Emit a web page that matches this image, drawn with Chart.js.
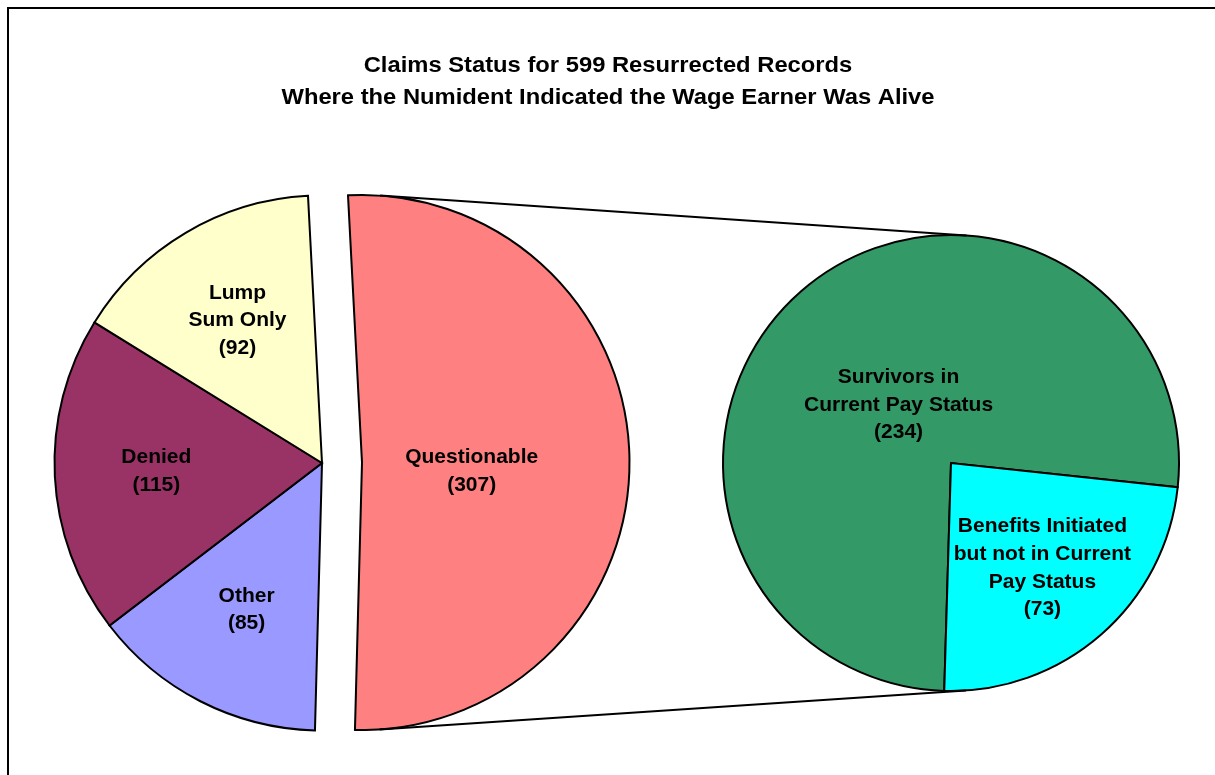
<!DOCTYPE html>
<html>
<head>
<meta charset="utf-8">
<script src="https://cdn.jsdelivr.net/npm/chart.js@4.4.0/dist/chart.umd.min.js"></script>
<style>
  html, body { margin: 0; padding: 0; background: #fff; overflow: hidden; }
  #page { position: relative; width: 1215px; height: 775px; overflow: hidden; }
  #frame { position: absolute; left: 6.5px; top: 6.5px; width: 1300px; height: 900px; border: 2.5px solid #000; }
  .layer { position: absolute; left: 0; top: 0; width: 1215px; height: 775px; }
</style>
</head>
<body>
<div id="page">
  <div id="frame"></div>
  <div class="layer"><canvas id="leftPie"></canvas></div>
  <div class="layer"><canvas id="rightPie"></canvas></div>
</div>
<script>
var titleLines = ['Claims Status for 599 Resurrected Records', 'Where the Numident Indicated the Wage Earner Was Alive'];

// main pie (all 599 records)
var claimCategories = [['Questionable'], ['Other'], ['Denied'], ['Lump', 'Sum Only']];
var claimCounts = [307, 85, 115, 92];
var claimColors = ['#FF8080', '#9999FF', '#993366', '#FFFFCC'];

// second pie, breaks down the "Questionable" slice
var questionableCategories = [['Survivors in', 'Current Pay Status'], ['Benefits Initiated', 'but not in Current', 'Pay Status']];
var questionableCounts = [234, 73];
var questionableColors = ['#339966', '#00FFFF'];

var FONT = '"Liberation Sans", Arial, sans-serif';

// pulls one slice out of the pie along its middle angle
var explodePlugin = {
  id: 'explode',
  afterUpdate: function (chart, args, opts) {
    var arc = chart.getDatasetMeta(0).data[opts.index];
    if (!arc) return;
    var mid = (arc.startAngle + arc.endAngle) / 2;
    arc.x += Math.cos(mid) * opts.distance;
    arc.y += Math.sin(mid) * opts.distance;
  }
};

// category name + (count) written inside each slice
var sliceLabels = {
  id: 'sliceLabels',
  afterDatasetsDraw: function (chart, args, opts) {
    var ctx = chart.ctx;
    var values = chart.data.datasets[0].data;
    ctx.save();
    ctx.font = 'bold 21px ' + FONT;
    ctx.fillStyle = '#000';
    ctx.textAlign = 'center';
    ctx.textBaseline = 'middle';
    chart.getDatasetMeta(0).data.forEach(function (arc, i) {
      var mid = (arc.startAngle + arc.endAngle) / 2;
      var r = arc.outerRadius * opts.fractions[i];
      var x = arc.x + Math.cos(mid) * r;
      var y = arc.y + Math.sin(mid) * r + (opts.dy ? opts.dy[i] : 0);
      var lines = chart.data.labels[i].concat('(' + values[i] + ')');
      var top = y - (lines.length - 1) * opts.lineHeight / 2;
      lines.forEach(function (t, k) {
        ctx.fillText(t, x, top + k * opts.lineHeight);
      });
    });
    ctx.restore();
  }
};

var titlePlugin = {
  id: 'twoLineTitle',
  afterDraw: function (chart, args, opts) {
    var ctx = chart.ctx;
    ctx.save();
    ctx.font = 'bold 22px ' + FONT;
    ctx.fillStyle = '#000';
    ctx.textAlign = 'center';
    ctx.textBaseline = 'alphabetic';
    ctx.translate(opts.x, 0);
    ctx.scale(opts.stretch, 1);
    titleLines.forEach(function (t, k) {
      ctx.fillText(t, 0, opts.y + k * opts.lineHeight);
    });
    ctx.restore();
  }
};

var leftChart = new Chart(document.getElementById('leftPie'), {
  type: 'pie',
  data: {
    labels: claimCategories,
    datasets: [{
      data: claimCounts,
      backgroundColor: claimColors,
      borderColor: '#000',
      borderWidth: 2,
      borderJoinStyle: 'miter'
    }]
  },
  options: {
    responsive: true,
    maintainAspectRatio: false,
    animation: false,
    events: [],
    rotation: -3,
    layout: { padding: { left: 53.5, right: 624.5, top: 194.5, bottom: 43.5 } },
    plugins: {
      legend: { display: false },
      tooltip: { enabled: false },
      explode: { index: 0, distance: 40 },
      sliceLabels: { fractions: [0.41, 0.62, 0.62, 0.62], dy: [10, -1, 0, 0], lineHeight: 27.5 },
      twoLineTitle: { x: 608, y: 72, lineHeight: 31.7, stretch: 1.08 }
    }
  },
  plugins: [explodePlugin, sliceLabels, titlePlugin]
});

// the two lines joining the pulled-out slice to the second pie (outer tangents)
var connectorLines = {
  id: 'connectorLines',
  afterDraw: function (chart) {
    var a = leftChart.getDatasetMeta(0).data[0];
    var b = chart.getDatasetMeta(0).data[0];
    if (!a || !b) return;
    var dx = b.x - a.x, dy = b.y - a.y;
    var d = Math.sqrt(dx * dx + dy * dy);
    var phi = Math.atan2(dy, dx);
    var theta = Math.acos((a.outerRadius - b.outerRadius) / d);
    var ctx = chart.ctx;
    ctx.save();
    ctx.strokeStyle = '#000';
    ctx.lineWidth = 2;
    [phi - theta, phi + theta].forEach(function (ang) {
      ctx.beginPath();
      ctx.moveTo(a.x + Math.cos(ang) * a.outerRadius, a.y + Math.sin(ang) * a.outerRadius);
      ctx.lineTo(b.x + Math.cos(ang) * b.outerRadius, b.y + Math.sin(ang) * b.outerRadius);
      ctx.stroke();
    });
    ctx.restore();
  }
};

var rightChart = new Chart(document.getElementById('rightPie'), {
  type: 'pie',
  data: {
    labels: questionableCategories,
    datasets: [{
      data: questionableCounts,
      backgroundColor: questionableColors,
      borderColor: '#000',
      borderWidth: 2,
      borderJoinStyle: 'miter'
    }]
  },
  options: {
    responsive: true,
    maintainAspectRatio: false,
    animation: false,
    events: [],
    rotation: 181.7,
    layout: { padding: { left: 722, right: 35, top: 234, bottom: 83 } },
    plugins: {
      legend: { display: false },
      tooltip: { enabled: false },
      sliceLabels: { fractions: [0.35, 0.61], dy: [2, 0], lineHeight: 27.8 }
    }
  },
  plugins: [sliceLabels, connectorLines]
});
</script>
</body>
</html>
